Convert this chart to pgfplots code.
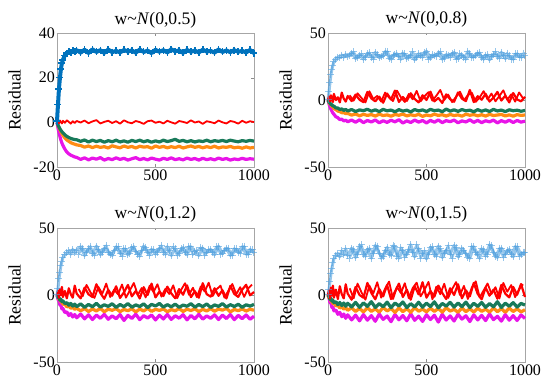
\documentclass[border=0pt]{standalone}
\usepackage{fontspec}
\setmainfont{Liberation Serif}
\usepackage{pgfplots}
\usepackage{pgfplotstable}
\pgfplotsset{compat=1.18}
\definecolor{cB}{RGB}{0,114,189}
\definecolor{cBL}{RGB}{80,160,222}
\definecolor{cR}{RGB}{255,0,0}
\definecolor{cG}{RGB}{24,122,90}
\definecolor{cO}{RGB}{255,140,20}
\definecolor{cM}{RGB}{232,20,232}
\newcommand{\fs}{\fontsize{16}{19}\selectfont}
\newcommand{\fl}{\fontsize{17.6}{21}\selectfont}

\pgfplotstableread{
x b r g o m
0 0.5 0.0 0.0 0.0 0.0
5 8 0.6 -1.1 -1.3 -2.5
10 15 -0.4 -2.1 -2.4 -4.6
15 20 0.8 -2.9 -3.4 -6.4
20 24 0.1 -3.6 -4.3 -8.0
25 26.5 -0.5 -4.2 -5.1 -9.3
30 28 0.7 -4.7 -5.8 -10.3
40 30 -0.2 -5.6 -7.0 -12.0
50 31 0.9 -6.3 -7.9 -13.3
60 31.5 0.2 -6.8 -8.5 -14.1
70 31.2 -0.6 -7.2 -9.1 -14.7
80 32.1 0.5 -7.5 -9.5 -15.1
90 31.6 -0.3 -7.7 -9.8 -15.5
100 32.3 0.6 -7.8 -10.1 -15.7
120 31.2 -0.1 -8.5 -10.4 -16.6
140 32.5 0.8 -7.9 -11.1 -15.9
160 31.0 -0.4 -8.8 -10.6 -16.8
180 32.7 0.4 -8.0 -11.3 -16.0
200 31.5 1.0 -8.6 -10.7 -16.5
220 32.3 -0.5 -8.1 -11.2 -15.8
240 31.1 0.2 -8.9 -10.9 -16.9
260 32.6 0.7 -8.2 -11.5 -16.2
280 31.4 -0.3 -8.7 -10.5 -16.7
300 32.0 0.5 -8.0 -11.0 -15.9
320 31.3 -0.6 -8.8 -11.4 -16.6
340 32.4 0.9 -8.3 -10.6 -16.1
360 31.7 0.0 -8.9 -11.2 -16.9
380 32.2 -0.4 -8.1 -10.8 -16.3
400 31.2 0.6 -8.6 -11.5 -15.8
420 32.6 0.1 -8.0 -10.7 -16.7
440 31.5 -0.7 -8.7 -11.1 -16.2
460 32.1 0.5 -8.2 -10.9 -16.8
480 31.0 0.8 -8.9 -11.6 -16.0
500 32.5 -0.2 -8.3 -10.6 -16.5
520 31.6 0.3 -8.8 -11.2 -16.9
540 32.3 -0.5 -8.0 -10.8 -16.1
560 31.3 0.7 -8.6 -11.4 -16.6
580 32.7 0.0 -8.2 -10.9 -15.9
600 31.8 -0.6 -7.6 -11.3 -16.7
620 32.2 0.6 -8.5 -10.7 -16.3
640 31.1 0.2 -8.1 -11.5 -16.8
660 32.4 -0.3 -8.7 -11.0 -16.0
680 31.6 0.9 -8.2 -10.6 -16.6
700 32.1 -0.1 -8.8 -11.2 -16.2
720 31.3 0.4 -8.3 -10.8 -16.9
740 32.5 -0.7 -8.6 -11.4 -16.1
760 31.7 0.5 -8.0 -10.9 -16.7
780 32.0 0.1 -8.7 -11.3 -16.3
800 31.2 -0.4 -8.2 -10.7 -16.8
820 32.6 0.8 -8.5 -11.5 -16.0
840 31.5 0.0 -8.1 -11.0 -16.6
860 32.2 -0.5 -8.6 -11.2 -16.2
880 31.4 0.6 -8.0 -10.8 -16.9
900 32.3 0.2 -8.4 -11.4 -16.4
920 31.6 -0.6 -8.7 -11.1 -16.7
940 32.0 0.7 -8.2 -11.6 -16.1
960 31.3 -0.2 -8.5 -11.0 -16.6
980 32.4 0.5 -8.1 -11.5 -16.3
1000 31.0 0.1 -8.4 -11.2 -16.5
}\tA

\pgfplotstableread{
x b r g o m
0 0 0 0 0 0
5 6 2.5 -1.5 -1.8 -2.8
10 13 -1.0 -2.3 -3.0 -5.0
15 19 3.5 -3.4 -3.6 -6.9
20 23 0.5 -3.5 -4.8 -8.4
25 26 -1.5 -4.6 -5.2 -9.8
30 28.5 4.5 -4.5 -6.3 -10.6
40 30.5 0.0 -5.9 -7.2 -12.5
50 32 2.0 -6.0 -8.3 -13.2
60 31.5 -1.8 -7.1 -8.6 -14.6
70 33.5 5.5 -6.6 -9.5 -14.3
80 32 1.0 -7.8 -9.4 -15.6
90 34 -1.2 -7.0 -10.2 -15.1
100 32.5 3.0 -8.2 -10.0 -16.2
120 35 -0.8 -7.1 -11.3 -15.0
140 31 4.0 -8.6 -10.4 -16.6
160 33.5 0.2 -7.4 -11.8 -14.8
180 30.5 -1.6 -8.0 -10.7 -16.9
200 34.5 6.0 -6.9 -11.5 -15.3
220 32 1.2 -8.4 -10.9 -16.4
240 35.5 -1.0 -7.3 -12.0 -14.9
260 31.5 2.5 -8.7 -10.6 -17.0
280 33 -2.0 -7.0 -11.6 -15.5
300 36 4.8 -8.1 -11.1 -16.7
320 30.5 0.4 -7.5 -12.1 -15.1
340 34 7.0 -8.8 -10.8 -16.3
360 32.5 -1.4 -7.2 -11.4 -14.7
380 35 2.2 -8.3 -10.5 -17.2
400 31 -0.6 -7.6 -11.9 -15.6
420 33.5 5.0 -8.9 -11.0 -16.8
440 30 0.8 -7.1 -11.7 -15.0
460 34.5 -1.8 -8.2 -10.7 -16.5
480 32 3.5 -7.4 -12.2 -15.3
500 36.5 0.0 -8.6 -11.2 -17.1
520 31.5 6.2 -7.0 -11.8 -15.2
540 33 -1.0 -8.0 -10.6 -16.6
560 35 1.5 -7.5 -11.5 -14.9
580 30.5 -2.2 -8.7 -11.0 -16.9
600 34 4.2 -6.8 -12.0 -15.4
620 32 0.6 -8.3 -10.8 -16.2
640 35.5 -1.3 -7.3 -11.6 -15.0
660 31 5.6 -8.5 -11.1 -17.0
680 33.5 1.0 -7.1 -12.1 -15.6
700 30.5 -0.8 -8.1 -10.6 -16.4
720 34.5 7.5 -7.6 -11.4 -14.8
740 32 -1.6 -8.8 -10.9 -16.7
760 35 2.8 -7.2 -11.8 -15.2
780 31.5 0.2 -8.4 -11.0 -16.9
800 33.5 4.6 -7.4 -12.0 -15.5
820 30 -1.2 -8.6 -10.7 -16.3
840 34 1.8 -7.0 -11.6 -15.0
860 32.5 6.0 -8.2 -11.2 -17.1
880 35.5 -0.4 -7.5 -10.8 -15.4
900 31 3.2 -8.7 -11.9 -16.6
920 33 -1.8 -7.3 -11.1 -15.1
940 30.5 5.2 -8.0 -12.1 -16.8
960 34.5 0.4 -7.6 -10.9 -15.3
980 32 -1.0 -8.4 -11.5 -16.5
1000 33 2.4 -7.8 -11.2 -15.8
}\tB

\pgfplotstableread{
x b r
110 33.5 3.5
130 36 -0.5
150 31.5 5.0
170 34.5 1.5
190 32 -1.8
210 35.5 6.5
230 30.5 0.8
250 34 3.0
270 32.5 -1.2
290 36.5 5.5
310 31 1.8
330 33.5 -0.8
350 35 7.0
370 30 2.0
390 34.5 -1.5
410 32 4.5
430 36 0.5
450 31.5 6.8
470 33 -1.0
490 35.5 2.8
510 30.5 5.8
530 34 -0.5
550 32.5 3.2
570 36 7.5
590 31 0.0
610 33.5 4.0
630 35 -1.6
650 30.5 2.4
670 34.5 6.2
690 32 -0.2
710 36.5 3.6
730 31.5 5.4
750 33 -1.4
770 35.5 2.0
790 30 6.6
810 34 0.4
830 32.5 4.8
850 36 -1.0
870 31 3.0
890 33.5 7.2
910 35 0.2
930 30.5 4.2
950 34.5 -1.2
970 32 5.6
990 35 1.2
}\tBx

\pgfplotstableread{
x b r g o m
0 0 0 0 0 0
5 5 3.0 -1.8 -1.2 -3.2
10 12 -2.0 -2.0 -3.4 -4.5
15 17 4.5 -3.9 -3.1 -7.5
20 22 0.0 -3.2 -5.2 -7.9
25 25 6.0 -5.0 -4.9 -10.4
30 28 -1.5 -4.4 -6.8 -10.0
40 30 3.0 -6.4 -6.9 -13.1
50 31.5 -2.5 -5.7 -8.8 -12.6
60 33 5.0 -7.6 -8.3 -15.3
70 30.5 0.5 -6.3 -9.9 -13.9
80 34 -2.0 -8.3 -9.2 -16.4
90 31.5 7.0 -6.8 -10.7 -14.6
100 33.5 1.0 -8.7 -9.9 -17.0
120 36 -2.5 -6.6 -11.8 -14.2
140 29.5 5.5 -9.2 -10.1 -17.8
160 34.5 0.5 -7.0 -12.3 -14.8
180 31 -1.5 -8.8 -10.4 -18.3
200 36.5 8.0 -6.2 -11.9 -15.0
220 30 1.5 -9.0 -10.0 -17.4
240 35 -2.8 -7.3 -12.5 -14.4
260 32 3.8 -8.5 -10.6 -18.1
280 29.5 -0.5 -6.5 -11.4 -15.6
300 36 6.5 -9.3 -10.2 -17.7
320 31 -2.2 -7.1 -12.4 -14.6
340 34.5 2.0 -8.7 -10.8 -19.0
360 30 7.5 -6.4 -11.7 -15.2
380 35.5 -1.0 -9.1 -10.3 -17.5
400 32.5 3.0 -7.4 -12.6 -14.3
420 29 -2.6 -8.6 -10.5 -18.4
440 36.5 5.8 -6.6 -11.9 -15.4
460 31.5 0.0 -9.4 -10.0 -17.2
480 34 8.5 -7.0 -12.2 -14.9
500 30.5 -1.8 -8.2 -10.7 -18.6
520 35 2.6 -6.3 -11.5 -15.1
540 32 -0.8 -9.0 -10.4 -17.9
560 36 6.2 -7.2 -12.5 -14.5
580 29.5 1.2 -8.8 -10.9 -18.2
600 34.5 -2.4 -6.8 -11.8 -15.5
620 31 4.4 -9.2 -10.1 -17.3
640 35.5 0.2 -7.5 -12.3 -14.7
660 30 7.2 -8.4 -10.6 -18.5
680 36 -1.6 -6.5 -11.6 -15.3
700 32.5 2.8 -9.1 -10.3 -17.8
720 29.5 -2.0 -7.1 -12.4 -14.4
740 35 8.8 -8.7 -10.7 -18.0
760 31.5 0.6 -6.7 -11.9 -15.6
780 34 -1.2 -9.3 -10.2 -17.4
800 30 5.0 -7.4 -12.1 -14.8
820 36.5 -0.6 -8.5 -10.5 -18.3
840 31 3.6 -6.4 -11.3 -15.0
860 35 -2.6 -9.0 -10.0 -17.6
880 29.5 6.8 -7.2 -12.6 -14.6
900 34.5 0.8 -8.6 -10.8 -18.4
920 32 -1.4 -6.9 -11.7 -15.2
940 36 4.0 -9.2 -10.4 -17.7
960 30.5 7.6 -7.3 -12.0 -14.9
980 34 -0.2 -8.3 -10.6 -18.1
1000 31.5 2.2 -7.0 -11.4 -15.8
}\tC

\pgfplotstableread{
x b r
110 30.5 4.5
130 35 -1.0
150 32 7.5
170 36.5 2.0
190 29.5 -2.2
210 34 6.0
230 31.5 1.0
250 37 8.5
270 30 -1.5
290 33.5 4.0
310 36 0.5
330 29 7.8
350 34.5 -2.0
370 31 3.5
390 36.5 9.0
410 30.5 0.0
430 33 5.2
450 35.5 -1.8
470 29.5 6.8
490 34 2.2
510 32 8.0
530 37 -1.2
550 30 4.6
570 33.5 0.8
590 36 7.2
610 29.5 -2.4
630 34.5 3.8
650 31.5 8.8
670 36.5 0.2
690 30 5.4
710 33 -1.6
730 35.5 6.4
750 29.5 2.6
770 34 9.2
790 32 -0.8
810 36 4.2
830 30.5 7.0
850 33.5 -2.0
870 35 3.2
890 29.5 8.2
910 34.5 0.6
930 31 5.8
950 36.5 -1.4
970 30 4.8
990 34 7.8
}\tCx

\pgfplotstableread{
x b r g o m
0 0 0 0 0 0
5 4 3.5 -1.0 -2.2 -2.0
10 10 -2.5 -3.2 -2.5 -5.6
15 16 5.5 -2.6 -4.6 -6.2
20 20 -0.5 -4.6 -4.3 -9.3
25 24 7.0 -3.9 -6.3 -9.0
30 27 -2.0 -5.8 -5.9 -11.8
40 29.5 4.0 -5.0 -8.2 -11.2
50 31 -3.0 -7.2 -7.6 -14.4
60 28.5 6.5 -5.6 -9.7 -13.0
70 33 0.5 -7.9 -8.8 -16.2
80 30 -2.5 -6.0 -10.6 -14.2
90 34.5 8.0 -8.4 -9.4 -17.4
100 29.5 1.0 -6.2 -11.4 -14.8
120 35 -3.5 -8.9 -9.6 -18.6
140 28 6.0 -5.5 -12.3 -15.0
160 36.5 0.0 -9.2 -10.0 -19.3
180 30 -2.0 -5.9 -12.7 -14.6
200 34 9.0 -8.5 -9.5 -18.8
220 27.5 1.5 -5.0 -12.2 -15.4
240 37 -3.2 -9.3 -10.4 -19.6
260 31 4.5 -6.4 -12.8 -14.2
280 28.5 -1.0 -8.8 -9.3 -18.2
300 35.5 7.5 -5.3 -11.9 -15.7
320 29.5 -3.0 -9.5 -10.1 -19.9
340 36 2.5 -6.0 -13.0 -14.5
360 27.5 8.5 -8.2 -9.7 -18.5
380 33.5 -1.5 -5.2 -12.4 -15.3
400 30 4.0 -9.4 -10.2 -19.2
420 37.5 -3.5 -6.5 -12.9 -14.0
440 28.5 6.5 -8.9 -9.4 -18.9
460 34.5 0.5 -5.4 -12.1 -15.8
480 31 9.5 -9.1 -10.5 -19.7
500 27 -2.0 -6.1 -12.6 -14.7
520 35.5 3.0 -8.6 -9.8 -18.3
540 30 -1.2 -5.1 -12.3 -15.1
560 36.5 7.0 -9.6 -10.0 -20.2
580 28 1.5 -6.3 -12.8 -14.4
600 33.5 -3.0 -8.3 -9.5 -18.7
620 30.5 5.0 -5.5 -12.0 -15.6
640 37 0.0 -9.0 -10.7 -19.4
660 28.5 8.0 -6.0 -12.9 -14.3
680 35 -2.5 -8.7 -9.6 -18.0
700 31 3.5 -5.3 -12.4 -15.5
720 27.5 -1.0 -9.4 -10.3 -19.8
740 36 9.0 -6.2 -12.7 -14.8
760 30 0.8 -8.5 -9.9 -18.6
780 34.5 -3.2 -5.6 -12.2 -15.2
800 29 5.5 -9.2 -10.6 -19.1
820 37.5 -0.5 -6.4 -12.8 -14.1
840 31.5 4.0 -8.8 -9.7 -18.4
860 28 -2.8 -5.0 -12.5 -15.9
880 35 7.5 -9.3 -10.1 -19.5
900 30.5 1.0 -6.1 -12.9 -14.6
920 34 -1.8 -8.4 -9.8 -18.8
940 28.5 6.0 -5.7 -12.3 -15.4
960 36 0.2 -9.0 -10.4 -19.0
980 30 8.2 -6.3 -12.6 -14.9
1000 32 -1.5 -7.5 -11.0 -17.5
}\tD

\pgfplotstableread{
x b r
110 27.5 5.0
130 34 -2.5
150 30 8.5
170 37.5 2.0
190 28.5 -3.5
210 35 7.0
230 31 1.2
250 36.5 9.5
270 27 -2.0
290 33.5 4.8
310 30 10.0
330 37 -3.0
350 29 6.0
370 35.5 1.5
390 28 8.8
410 34 -2.4
430 31.5 5.2
450 37.5 9.2
470 27.5 -1.0
490 33 3.8
510 30 9.8
530 36 -3.2
550 28.5 6.2
570 34.5 0.6
590 31 8.4
610 37 -2.2
630 27.5 4.4
650 35.5 9.6
670 30.5 0.0
690 33 6.8
710 28 -3.0
730 36.5 5.6
750 31.5 10.2
770 27 -1.8
790 34 3.4
810 30.5 8.6
830 37 0.8
850 29 5.8
870 35 -2.6
890 28 9.0
910 33.5 2.4
930 30.5 7.4
950 36.5 -1.6
970 29 4.2
990 32 8.0
}\tDx

\pgfplotsset{
  every axis title/.style={at={(0.5,1)}, anchor=base, yshift=9pt, inner sep=0pt, font=\fl},
  res/.style={scale only axis, width=197pt, height=134pt,
    xmin=0, xmax=1000, xtick={0,500,1000}, clip=false,
    axis line style={black!35}, tick style={black!45}, tick align=inside,
    major tick length=2.5pt,
    tick label style={font=\fs},
    /pgf/number format/assume math mode=true,
    /pgf/number format/1000 sep={},
    ylabel={Residual},
    every axis y label/.style={at={(axis description cs:-0.215,0.5)}, rotate=90, anchor=center, font=\fl},
    xticklabel style={inner sep=3pt}, yticklabel style={inner sep=2pt},
    every axis plot/.append style={line join=round},
  },
  sB/.style={cB, line width=4pt, mark=+, mark size=3.5pt, mark options={line width=1.6pt}},
  sBL/.style={cBL, opacity=0.6, line width=3pt, mark=+, mark size=3.5pt, mark options={line width=1pt}},
  sBLx/.style={cBL, opacity=0.6, line width=2pt, mark=+, mark size=3.5pt, mark options={line width=1pt}},
  sR/.style={cR, line width=1.8pt, no marks},
  sRb/.style={cR, line width=2.2pt, no marks},
  sRx/.style={cR, line width=1.8pt, no marks},
  sG/.style={cG, line width=3.2pt, no marks},
  sO/.style={cO, line width=3.2pt, no marks},
  sM/.style={cM, line width=3.2pt, no marks},
}

\newcommand{\panel}[2]{%
  \addplot[sM] table[x=x,y=m]{#1};
  \addplot[sO] table[x=x,y=o]{#1};
  \addplot[sG] table[x=x,y=g]{#1};
  \addplot[#2] table[x=x,y=r]{#1};
}

\begin{document}
\begin{tikzpicture}
\useasboundingbox (0,0) rectangle (550pt,391pt);
\begin{axis}[res, at={(57pt,224pt)}, ymin=-20, ymax=40, ytick={-20,0,20,40},
  title={w\textasciitilde\textit{N}(0,0.5)}]
  \addplot[sB] table[x=x,y=b]{\tA};
  \panel{\tA}{sR}
\end{axis}
\begin{axis}[res, at={(328pt,224pt)}, ymin=-50, ymax=50, ytick={-50,0,50},
  title={w\textasciitilde\textit{N}(0,0.8)}]
  \addplot[sBL] table[x=x,y=b]{\tB};
  \addplot[sBLx] table[x=x,y=b]{\tBx};
  \panel{\tB}{sRb}
  \addplot[sRx] table[x=x,y=r]{\tBx};
\end{axis}
\begin{axis}[res, at={(57pt,29pt)}, ymin=-50, ymax=50, ytick={-50,0,50},
  title={w\textasciitilde\textit{N}(0,1.2)}]
  \addplot[sBL] table[x=x,y=b]{\tC};
  \addplot[sBLx] table[x=x,y=b]{\tCx};
  \panel{\tC}{sRb}
  \addplot[sRx] table[x=x,y=r]{\tCx};
\end{axis}
\begin{axis}[res, at={(328pt,29pt)}, ymin=-50, ymax=50, ytick={-50,0,50},
  title={w\textasciitilde\textit{N}(0,1.5)}]
  \addplot[sBL] table[x=x,y=b]{\tD};
  \addplot[sBLx] table[x=x,y=b]{\tDx};
  \panel{\tD}{sRb}
  \addplot[sRx] table[x=x,y=r]{\tDx};
\end{axis}
\end{tikzpicture}
\end{document}
